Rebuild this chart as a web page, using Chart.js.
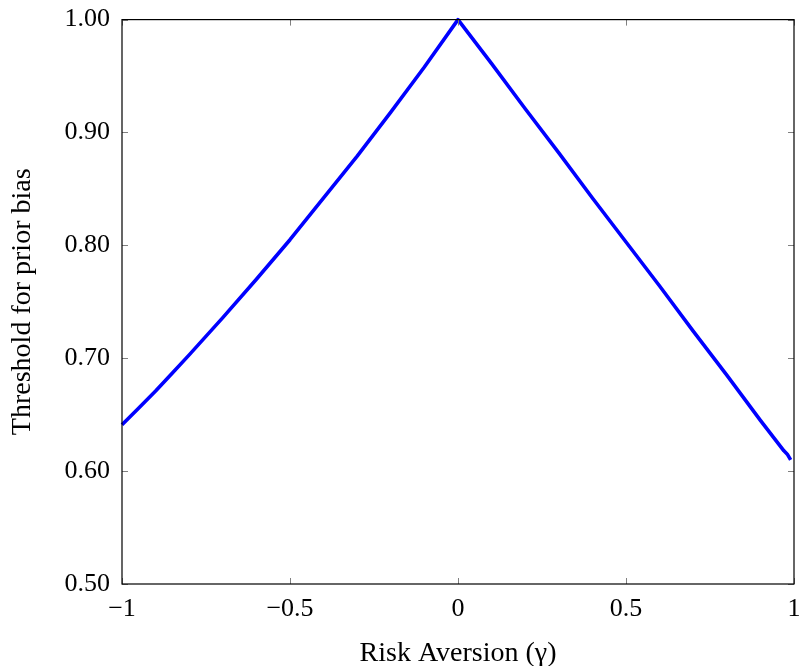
<!DOCTYPE html>
<html>
<head>
<meta charset="utf-8">
<script src="https://cdn.jsdelivr.net/npm/chart.js@4/dist/chart.umd.min.js"></script>
<style>
  html, body { margin: 0; padding: 0; background: #fff; }
  #wrap { width: 803px; height: 666px; }
</style>
</head>
<body>
<div id="wrap"><canvas id="grafico" width="803" height="666"></canvas></div>
<script>
// valores
const gamma = [-1, -0.95, -0.9, -0.85, -0.8, -0.7, -0.6, -0.5, -0.4, -0.3, -0.2, -0.1, 0,
  0.1, 0.2, 0.3, 0.4, 0.5, 0.6, 0.7, 0.8, 0.9, 0.97, 0.98, 0.99];
const limiar = [0.641, 0.656, 0.671, 0.687, 0.703, 0.736, 0.770, 0.805, 0.842, 0.879, 0.918, 0.958, 1.0,
  0.961, 0.921, 0.882, 0.842, 0.803, 0.764, 0.724, 0.685, 0.645, 0.618, 0.615, 0.610];
const ticksX = [-1, -0.5, 0, 0.5, 1];
const ticksY = [0.5, 0.6, 0.7, 0.8, 0.9, 1.0];

const fonte = "'Liberation Serif', 'DejaVu Serif', serif";

function rotuloX(v) {
  const s = String(v);
  return v < 0 ? '\u2212' + s.substring(1) : s;
}

// moldura preta e marcas de escala para dentro (estilo pgfplots)
const moldura = {
  id: 'moldura',
  afterDatasetsDraw(chart) {
    const ctx = chart.ctx;
    const a = chart.chartArea;
    const sx = chart.scales.x;
    const sy = chart.scales.y;
    const L = 6;
    ctx.save();
    ctx.strokeStyle = '#808080';
    ctx.lineWidth = 1;
    ctx.beginPath();
    ticksX.forEach(v => {
      const px = Math.round(sx.getPixelForValue(v)) + 0.5;
      ctx.moveTo(px, a.bottom); ctx.lineTo(px, a.bottom - L);
      ctx.moveTo(px, a.top); ctx.lineTo(px, a.top + L);
    });
    ticksY.forEach(v => {
      const py = Math.round(sy.getPixelForValue(v)) + 0.5;
      ctx.moveTo(a.left, py); ctx.lineTo(a.left + L, py);
      ctx.moveTo(a.right, py); ctx.lineTo(a.right - L, py);
    });
    ctx.stroke();
    ctx.strokeStyle = '#000';
    ctx.lineWidth = 1.2;
    ctx.strokeRect(a.left, a.top, a.right - a.left, a.bottom - a.top);
    ctx.restore();
  }
};

const grafico = new Chart(document.getElementById('grafico'), {
  type: 'line',
  data: {
    datasets: [{
      data: gamma.map((g, i) => ({ x: g, y: limiar[i] })),
      borderColor: '#0000ff',
      borderWidth: 3.6,
      pointRadius: 0,
      tension: 0,
      borderJoinStyle: 'round',
      fill: false,
      clip: false
    }]
  },
  options: {
    responsive: false,
    animation: false,
    layout: { padding: { left: 0, right: 9, top: 13, bottom: 0 } },
    plugins: { legend: { display: false }, tooltip: { enabled: false } },
    scales: {
      x: {
        type: 'linear',
        min: -1,
        max: 1,
        afterBuildTicks: s => { s.ticks = ticksX.map(v => ({ value: v })); },
        afterFit: s => { s.height = 82; },
        grid: { display: false },
        border: { display: false },
        ticks: {
          color: '#000',
          padding: 2,
          maxRotation: 0,
          font: { family: fonte, size: 26 },
          callback: v => rotuloX(v)
        },
        title: {
          display: true,
          text: 'Risk Aversion (\u03b3)',
          color: '#000',
          padding: { top: 12, bottom: 0 },
          font: { family: fonte, size: 28, lineHeight: 0.9 }
        }
      },
      y: {
        type: 'linear',
        min: 0.5,
        max: 1.0,
        afterBuildTicks: s => { s.ticks = ticksY.map(v => ({ value: v })); },
        afterFit: s => { s.width = 122; },
        grid: { display: false },
        border: { display: false },
        ticks: {
          color: '#000',
          padding: 4,
          font: { family: fonte, size: 26 },
          callback: v => v.toFixed(2)
        },
        title: {
          display: true,
          text: 'Threshold for prior bias',
          color: '#000',
          padding: { top: 6, bottom: 4 },
          font: { family: fonte, size: 28 }
        }
      }
    }
  },
  plugins: [moldura]
});
</script>
</body>
</html>
